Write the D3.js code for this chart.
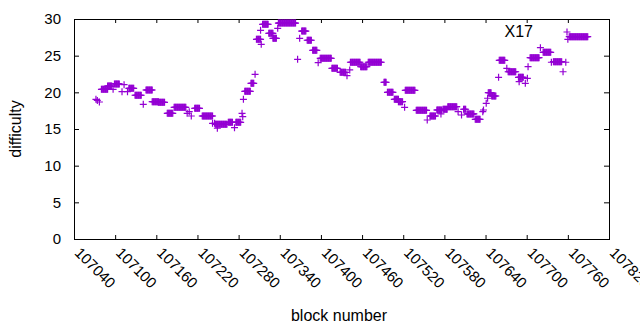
<!DOCTYPE html>
<html>
<head>
<meta charset="utf-8">
<script src="https://cdn.jsdelivr.net/npm/d3@7"></script>
<style>
  body { margin: 0; background: #fff; }
  text { font-family: "Liberation Sans", Arial, sans-serif; }
</style>
</head>
<body>
<svg id="chart" width="640" height="330"></svg>
<script>
// difficulty per block, stored as runs of equal difficulty
const runStart = [107072, 107074, 107077, 107080, 107089, 107097, 107099, 107110, 107113, 107118,
  107120, 107129, 107141, 107145, 107154, 107163, 107176, 107186, 107205, 107208,
  107211, 107216, 107227, 107242, 107245, 107246, 107249, 107265, 107274, 107276,
  107285, 107286, 107287, 107289, 107298, 107304, 107306, 107312, 107313, 107315,
  107324, 107330, 107337, 107338, 107366, 107369, 107372, 107380, 107388, 107396,
  107399, 107416, 107428, 107438, 107442, 107443, 107458, 107469, 107492, 107497,
  107507, 107513, 107522, 107523, 107539, 107555, 107559, 107569, 107575, 107578,
  107585, 107600, 107605, 107608, 107613, 107625, 107636, 107637, 107641, 107643,
  107644, 107649, 107659, 107660, 107671, 107673, 107688, 107689, 107698, 107701,
  107702, 107705, 107720, 107724, 107736, 107739, 107753, 107757, 107760, 107762];
const runCount = [1, 1, 1, 10, 7, 1, 8, 1, 1, 1,
  8, 10, 1, 10, 10, 10, 9, 18, 1, 1,
  1, 8, 16, 1, 1, 18, 1, 7, 1, 8,
  1, 1, 1, 9, 5, 1, 7, 1, 1, 9,
  7, 6, 1, 26, 1, 1, 7, 7, 7, 1,
  17, 9, 9, 1, 1, 15, 10, 20, 4, 9,
  7, 7, 1, 15, 16, 1, 9, 8, 1, 7,
  14, 1, 1, 4, 11, 8, 1, 1, 1, 1,
  5, 7, 1, 9, 1, 12, 8, 1, 1, 1,
  1, 14, 1, 12, 1, 13, 1, 1, 1, 28];
const runDiff = [19.05, 18.89, 18.68, 20.41, 20.86, 20.41, 21.14, 20.09, 21.04, 20.09,
  20.55, 19.6, 18.37, 20.32, 18.72, 18.64, 17.14, 17.96, 17.14, 17.36,
  16.77, 17.82, 16.77, 15.78, 15.78, 15.64, 15.1, 15.91, 15.18, 15.91,
  17.14, 16.68, 19.05, 20.14, 21.23, 22.46, 27.23, 28.46, 26.55, 29.28,
  28.05, 27.37, 28.73, 29.45, 24.5, 27.37, 28.36, 27.1, 25.73, 24.04,
  24.64, 23.28, 22.73, 22.27, 23.05, 24.1, 23.5, 24.1, 21.37, 20.0,
  19.05, 18.72, 17.96, 20.28, 17.55, 16.23, 16.77, 17.59, 17.05, 17.69,
  18.04, 17.36, 16.91, 17.69, 17.05, 16.32, 17.36, 17.59, 18.5, 19.19,
  19.95, 19.5, 22.05, 24.37, 23.28, 22.81, 22.05, 21.45, 21.23, 21.91,
  23.5, 24.72, 26.09, 25.46, 24.1, 24.18, 22.81, 24.1, 27.23, 27.59];

const xTicks = [107040, 107100, 107160, 107220, 107280, 107340, 107400,
  107460, 107520, 107580, 107640, 107700, 107760, 107820];
const yTicks = [0, 5, 10, 15, 20, 25, 30];
const seriesName = "X17";

const purple = "#9400d3";
const margin = { left: 74, right: 609, top: 19, bottom: 239 };

const svg = d3.select("#chart");

const x = d3.scaleLinear().domain([107040, 107820]).range([margin.left, margin.right]);
const y = d3.scaleLinear().domain([0, 30]).range([margin.bottom, margin.top]);

// expand runs into one point per block
const points = [];
runStart.forEach((s, i) => {
  for (let k = 0; k < runCount[i]; k++) {
    points.push({ block: s + k, diff: runDiff[i] });
  }
});

const plusPath = "M-3.5,0H3.5M0,-3.5V3.5";

// axes (ticks pointing inward, mirrored)
const bottom = svg.append("g")
  .attr("transform", `translate(0,${margin.bottom})`)
  .call(d3.axisBottom(x).tickValues(xTicks).tickSize(-4).tickFormat(d3.format("d")));

svg.append("g")
  .attr("transform", `translate(0,${margin.top})`)
  .call(d3.axisTop(x).tickValues(xTicks).tickSize(-4).tickFormat(""));

svg.append("g")
  .attr("transform", `translate(${margin.left},0)`)
  .call(d3.axisLeft(y).tickValues(yTicks).tickSize(-5).tickPadding(13));

svg.append("g")
  .attr("transform", `translate(${margin.right},0)`)
  .call(d3.axisRight(y).tickValues(yTicks).tickSize(-5).tickFormat(""));

svg.selectAll(".domain").remove();
svg.selectAll(".tick line").attr("stroke", "#000");
svg.selectAll(".tick text").attr("font-size", 15).attr("fill", "#000")
  .attr("font-family", "'Liberation Sans', Arial, sans-serif");

bottom.selectAll("text")
  .attr("x", 0).attr("y", 0).attr("dy", "0.35em")
  .attr("transform", "translate(3,11) rotate(45)")
  .attr("text-anchor", "start");

svg.append("rect")
  .attr("x", margin.left + 0.5).attr("y", margin.top + 0.5)
  .attr("width", margin.right - margin.left).attr("height", margin.bottom - margin.top)
  .attr("fill", "none").attr("stroke", "#000");

// points
svg.append("g")
  .selectAll("path")
  .data(points)
  .enter()
  .append("path")
  .attr("transform", d => `translate(${x(d.block)},${y(d.diff)})`)
  .attr("d", plusPath)
  .attr("stroke", purple)
  .attr("stroke-width", 1.2)
  .attr("fill", "none");

// key
svg.append("text")
  .attr("x", 533).attr("y", 37)
  .attr("text-anchor", "end")
  .attr("font-size", 16)
  .text(seriesName);
svg.append("path")
  .attr("transform", "translate(567,32)")
  .attr("d", plusPath)
  .attr("stroke", purple)
  .attr("stroke-width", 1.2);

// axis titles
svg.append("text")
  .attr("transform", "translate(21,129) rotate(-90)")
  .attr("text-anchor", "middle")
  .attr("font-size", 16)
  .text("difficulty");
svg.append("text")
  .attr("x", 339).attr("y", 321)
  .attr("text-anchor", "middle")
  .attr("font-size", 16)
  .text("block number");
</script>
</body>
</html>
